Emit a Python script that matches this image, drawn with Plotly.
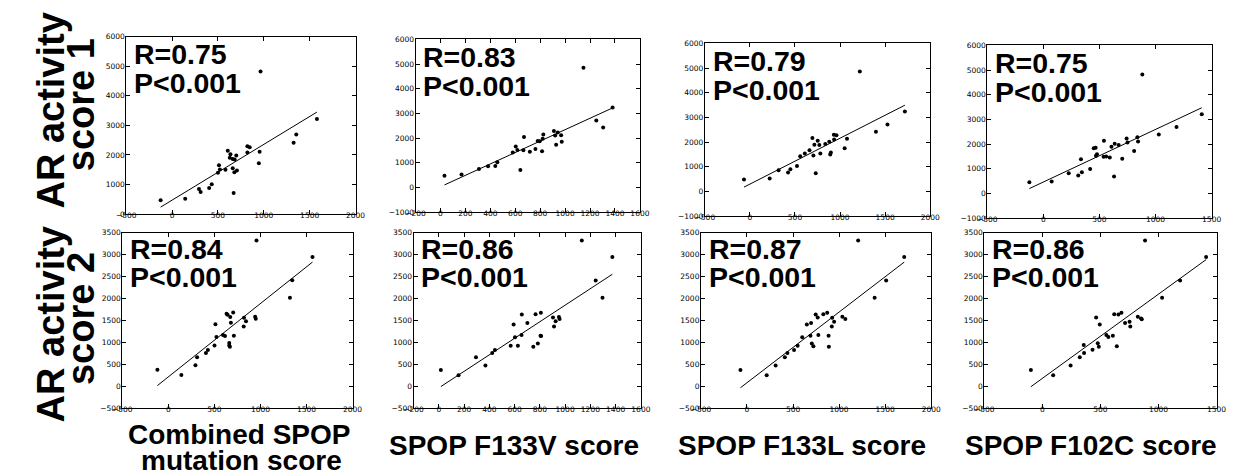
import numpy as np
import plotly.graph_objects as go

W, H = 1253, 474

# ---------------- data ----------------
# Top row: AR activity score 1
combined_x1 = [-125, 143, 293, 311, 404, 432, 500, 511, 521, 582, 607, 629, 636, 661, 682, 661, 679, 707, 700, 671, 821, 846, 821, 954, 946, 964, 1325, 1354, 1579]
combined_y1 = [470, 520, 850, 750, 880, 1005, 1400, 1650, 1510, 1500, 2140, 1900, 2020, 1860, 1845, 1550, 1415, 1470, 1980, 710, 2290, 2255, 2080, 2110, 1720, 4820, 2410, 2690, 3215]

f133v_x1 = [32, 169, 309, 382, 440, 456, 580, 604, 617, 641, 665, 670, 717, 762, 780, 796, 815, 820, 825, 910, 920, 928, 941, 968, 973, 1147, 1250, 1305, 1381]
f133v_y1 = [474, 527, 753, 859, 873, 1019, 1417, 1656, 1523, 713, 1510, 2041, 1444, 1563, 1882, 1869, 1470, 1975, 2148, 2294, 2108, 1736, 2227, 2121, 1855, 4857, 2719, 2427, 3237]

f133l_x1 = [-66, 219, 318, 423, 449, 522, 558, 609, 661, 693, 704, 715, 730, 752, 770, 781, 836, 880, 891, 898, 931, 934, 960, 1051, 1077, 1219, 1398, 1526, 1719]
f133l_y1 = [485, 525, 856, 764, 896, 1029, 1426, 1533, 1665, 2169, 1453, 1890, 737, 2050, 1877, 1533, 1917, 2010, 1493, 1572, 2301, 2103, 2275, 1745, 2129, 4860, 2421, 2712, 3243]

f102c_x1 = [-125, 74, 226, 311, 343, 417, 335, 449, 466, 478, 469, 540, 537, 560, 592, 607, 636, 630, 671, 703, 742, 750, 809, 838, 844, 882, 1029, 1187, 1412]
f102c_y1 = [445, 485, 817, 724, 856, 989, 1387, 1824, 1850, 1586, 1520, 2129, 1480, 1493, 1453, 1890, 2010, 684, 1957, 1400, 2222, 2063, 1718, 2275, 2103, 4820, 2381, 2686, 3203]

# Bottom row: AR activity score 2
combined_x2 = [-119, 141, 294, 312, 408, 429, 501, 511, 522, 593, 615, 632, 643, 672, 704, 679, 661, 661, 668, 711, 821, 843, 818, 942, 949, 957, 1320, 1345, 1565]
combined_y2 = [379, 260, 483, 662, 759, 826, 930, 1415, 1124, 1169, 1147, 1653, 1630, 1578, 1683, 1452, 990, 930, 900, 1154, 1563, 1482, 1362, 1586, 1541, 3321, 2018, 2420, 2949]

f133v_x2 = [16, 156, 294, 369, 423, 444, 569, 592, 603, 626, 655, 657, 701, 748, 766, 784, 805, 808, 810, 904, 912, 925, 951, 956, 1132, 1242, 1296, 1374]
f133v_y2 = [372, 253, 662, 476, 759, 826, 923, 1407, 1117, 923, 1169, 1638, 1444, 901, 1645, 975, 1154, 1675, 1147, 1571, 1362, 1482, 1578, 1534, 3321, 2413, 2018, 2949]

f133l_x2 = [-71, 214, 311, 411, 439, 511, 550, 600, 650, 696, 689, 704, 721, 746, 768, 775, 829, 871, 886, 889, 925, 921, 946, 1036, 1068, 1207, 1386, 1511, 1707]
f133l_y2 = [372, 253, 476, 662, 759, 826, 923, 1117, 1407, 1444, 1154, 975, 916, 1638, 1571, 1169, 1645, 1675, 1154, 901, 1563, 1362, 1474, 1586, 1534, 3321, 2018, 2413, 2949]

f102c_x2 = [-99, 93, 243, 322, 356, 359, 432, 463, 477, 486, 494, 551, 568, 607, 619, 641, 655, 681, 712, 751, 757, 822, 850, 856, 884, 1031, 1186, 1410]
f102c_y2 = [372, 253, 476, 662, 944, 759, 834, 1571, 983, 901, 1407, 1169, 1124, 1154, 1645, 916, 1638, 1675, 1444, 1474, 1362, 1586, 1549, 1527, 3321, 2018, 2413, 2949]

r_labels = ["R=0.75", "R=0.83", "R=0.79", "R=0.75", "R=0.84", "R=0.86", "R=0.87", "R=0.86"]
p_labels = ["P<0.001"] * 8
x_titles = ["Combined SPOP", "SPOP F133V score", "SPOP F133L score", "SPOP F102C score"]
y_titles = [("AR activity", "score 1"), ("AR activity", "score 2")]

# ---------------- layout helpers ----------------
panels = [
    # data x, data y, frame px (left, right, top, bottom), x range, x dtick, y range, y dtick
    (combined_x1, combined_y1, (110, 343, 25, 206), (-500, 2000), 500, (0, 6000), 1000),
    (f133v_x1, f133v_y1, (404, 632, 28, 204), (-200, 1600), 200, (-1000, 6000), 1000),
    (f133l_x1, f133l_y1, (698, 927, 32, 208), (-500, 2000), 500, (-1000, 6000), 1000),
    (f102c_x1, f102c_y1, (985, 1213, 34, 210), (-500, 1500), 500, (-1000, 6000), 1000),
    (combined_x2, combined_y2, (106, 340, 225, 404), (-500, 2000), 500, (-500, 3500), 500),
    (f133v_x2, f133v_y2, (402, 633, 225, 404), (-200, 1600), 200, (-500, 3500), 500),
    (f133l_x2, f133l_y2, (694, 928, 225, 404), (-500, 2000), 500, (-500, 3500), 500),
    (f102c_x2, f102c_y2, (982, 1218, 225, 404), (-500, 1500), 500, (-500, 3500), 500),
]

fig = go.Figure()
layout = dict(
    width=W, height=H, margin=dict(l=0, r=0, t=0, b=0),
    paper_bgcolor="white", plot_bgcolor="white", showlegend=False,
)
annotations = []
tickfont = dict(family="DejaVu Sans", size=7.5, color="black")

for i, (xs, ys, (l, r, t, b), xr, xd, yr, yd) in enumerate(panels):
    n = i + 1
    xa = "x" if n == 1 else f"x{n}"
    ya = "y" if n == 1 else f"y{n}"
    xs_a = np.array(xs, dtype=float)
    ys_a = np.array(ys, dtype=float)
    fig.add_trace(go.Scatter(x=xs, y=ys, mode="markers", xaxis=xa, yaxis=ya,
                             marker=dict(color="black", size=4, line=dict(width=0))))
    slope, icpt = np.polyfit(xs_a, ys_a, 1)
    lx = np.array([xs_a.min(), xs_a.max()])
    fig.add_trace(go.Scatter(x=lx, y=slope * lx + icpt, mode="lines", xaxis=xa, yaxis=ya,
                             line=dict(color="black", width=1)))
    common = dict(ticks="inside", ticklen=4, tickwidth=1, tickcolor="black",
                  showline=True, linecolor="black", linewidth=1, mirror="allticks",
                  showgrid=False, zeroline=False, tickfont=tickfont)
    layout["xaxis" if n == 1 else f"xaxis{n}"] = dict(
        domain=[l / W, r / W], range=list(xr), tick0=xr[0], dtick=xd,
        anchor=ya, ticklabelstandoff=-6, **common)
    layout["yaxis" if n == 1 else f"yaxis{n}"] = dict(
        domain=[1 - b / H, 1 - t / H], range=list(yr), tick0=yr[0], dtick=yd,
        anchor=xa, ticklabelstandoff=-1, **common)
    top_row = i < 4
    r_off, p_off = (17.5, 47.5) if top_row else (16.5, 45.5)
    for txt, off in ((r_labels[i], r_off), (p_labels[i], p_off)):
        annotations.append(dict(
            text=txt, xref="paper", yref="paper", x=(l + 6) / W, y=1 - (t + off) / H,
            xanchor="left", yanchor="middle", showarrow=False,
            font=dict(family="Liberation Sans", size=28.5, color="black", weight="bold")))

# Row titles (rotated)
bold_big = dict(family="Liberation Sans", size=38, color="black", weight="bold")
for (line1, line2), yc1, yc2 in ((y_titles[0], 100, 94), (y_titles[1], 318, 312)):
    annotations.append(dict(text=line1, xref="paper", yref="paper", x=34 / W, y=1 - yc1 / H,
                            xanchor="center", yanchor="middle", textangle=-90,
                            showarrow=False, font=bold_big))
    annotations.append(dict(text=line2, xref="paper", yref="paper", x=64 / W, y=1 - yc2 / H,
                            xanchor="center", yanchor="middle", textangle=-90,
                            showarrow=False, font=bold_big))

# Column titles
col_font = dict(family="Liberation Sans", size=28, color="black", weight="bold")
annotations.append(dict(text=x_titles[0], xref="paper", yref="paper", x=225 / W, y=1 - 431 / H,
                        xanchor="center", yanchor="middle", showarrow=False, font=col_font))
annotations.append(dict(text="mutation score", xref="paper", yref="paper", x=227 / W, y=1 - 457 / H,
                        xanchor="center", yanchor="middle", showarrow=False, font=col_font))
for txt, xc in zip(x_titles[1:], (504, 797, 1090)):
    annotations.append(dict(text=txt, xref="paper", yref="paper", x=xc / W, y=1 - 442 / H,
                            xanchor="center", yanchor="middle", showarrow=False, font=col_font))

layout["annotations"] = annotations
fig.update_layout(**layout)
fig.write_html("out.html")
